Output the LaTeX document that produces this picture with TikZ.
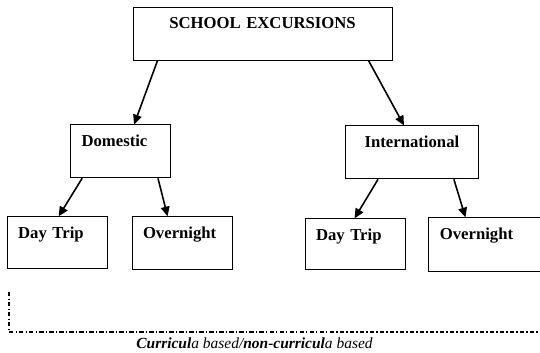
\documentclass[tikz,border=0pt]{standalone}
\usepackage{fontspec}
\setmainfont{Liberation Serif}
\usetikzlibrary{positioning, arrows.meta}

\begin{document}
\begin{tikzpicture}[
    box/.style={rectangle, draw, line width=0.5pt, text width=1.56cm, align=left,
        inner xsep=0.22cm, inner ysep=0pt, text height=0.44cm, text depth=0.62cm,
        font=\bfseries\fontsize{9.5}{11}\selectfont},
    arrow/.style={-{Triangle[length=5.5pt, width=5pt]}, line width=0.9pt},
    dashdot/.style={line width=0.8pt, dash pattern=on 2.5pt off 1.2pt on 0.8pt off 1.2pt}
]
\useasboundingbox (0,0) rectangle (10.8,7.04);

\node[box, text width=4.74cm, align=center] (excursions) at (5.25,6.37) {SCHOOL EXCURSIONS};
\node[box] (domestic) [below=1.28cm of excursions.south west, xshift=-0.24cm] {Domestic};
\node[box, text width=2.22cm, align=center] (international) [below=1.3cm of excursions.south east, xshift=0.39cm] {International};

\node[box, text depth=0.6cm] (daytripA) [below=0.76cm of domestic.south west, xshift=-0.26cm] {Day Trip};
\node[box] (overnightA) [below=0.76cm of domestic.south east, xshift=0.22cm] {Overnight};
\node[box, text depth=0.58cm] (daytripB) [below=0.78cm of international.south west, xshift=0.2cm] {Day Trip};
\node[box, text width=1.86cm, text depth=0.64cm] (overnightB) [below=0.76cm of international.south east, xshift=0.15cm] {Overnight};

\draw[arrow] ([xshift=0.5cm]excursions.south west) -- ([xshift=1.28cm]domestic.north west);
\draw[arrow] ([xshift=-0.48cm]excursions.south east) -- ([xshift=1.18cm]international.north west);

\draw[arrow] ([xshift=0.24cm]domestic.south west) -- ([xshift=1.04cm]daytripA.north west);
\draw[arrow] ([xshift=-0.26cm]domestic.south east) -- ([xshift=0.72cm]overnightA.north west);
\draw[arrow] ([xshift=0.66cm]international.south west) -- ([xshift=1.0cm]daytripB.north west);
\draw[arrow] ([xshift=-0.5cm]international.south east) -- ([xshift=0.74cm]overnightB.north west);

% curriculum bracket
\coordinate (bracket top) at (0.18,1.2);
\coordinate (bracket corner) at (0.18,0.4);
\coordinate (bracket end) at (10.8,0.4);
\draw[dashdot] (bracket top) -- (bracket corner) -- (bracket end);
\node[anchor=base, font=\itshape\fontsize{8.8}{10}\selectfont] (basis) at (5.09,0.08)
    {\textbf{Curricul}a based/\textbf{non-curricul}a based};

\end{tikzpicture}
\end{document}
